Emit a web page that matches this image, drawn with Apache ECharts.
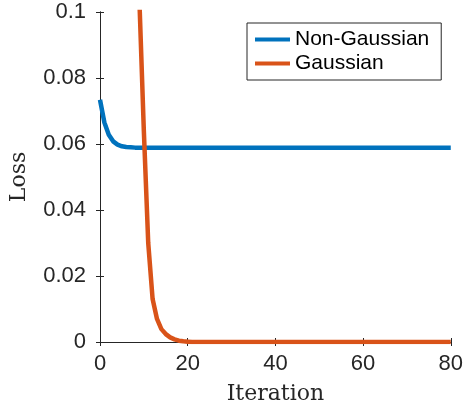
<!DOCTYPE html>
<html>
<head>
<meta charset="utf-8">
<script src="https://cdn.jsdelivr.net/npm/echarts@6/dist/echarts.min.js"></script>
<style>
  html, body { margin: 0; padding: 0; background: #fff; }
  #main { width: 466px; height: 410px; }
</style>
</head>
<body>
<div id="main"></div>
<script type="text/javascript">
// loss per iteration (iteration = array index, 0..80)
var nonGaussian = [
  0.0734, 0.0665, 0.0628, 0.0608, 0.0598, 0.0593, 0.0591, 0.0590, 0.0589, 0.0589,
  0.0589, 0.0589, 0.0589, 0.0589, 0.0589, 0.0589, 0.0589, 0.0589, 0.0589, 0.0589,
  0.0589, 0.0589, 0.0589, 0.0589, 0.0589, 0.0589, 0.0589, 0.0589, 0.0589, 0.0589,
  0.0589, 0.0589, 0.0589, 0.0589, 0.0589, 0.0589, 0.0589, 0.0589, 0.0589, 0.0589,
  0.0589, 0.0589, 0.0589, 0.0589, 0.0589, 0.0589, 0.0589, 0.0589, 0.0589, 0.0589,
  0.0589, 0.0589, 0.0589, 0.0589, 0.0589, 0.0589, 0.0589, 0.0589, 0.0589, 0.0589,
  0.0589, 0.0589, 0.0589, 0.0589, 0.0589, 0.0589, 0.0589, 0.0589, 0.0589, 0.0589,
  0.0589, 0.0589, 0.0589, 0.0589, 0.0589, 0.0589, 0.0589, 0.0589, 0.0589, 0.0589,
  0.0589
];
var gaussian = [
  0.62, 0.50, 0.40, 0.32, 0.26, 0.21, 0.17, 0.145, 0.125, 0.103,
  0.064, 0.030, 0.013, 0.007, 0.0039, 0.0024, 0.0014, 0.0008, 0.0004, 0.0002,
  0.0001, 0, 0, 0, 0, 0, 0, 0, 0, 0,
  0, 0, 0, 0, 0, 0, 0, 0, 0, 0,
  0, 0, 0, 0, 0, 0, 0, 0, 0, 0,
  0, 0, 0, 0, 0, 0, 0, 0, 0, 0,
  0, 0, 0, 0, 0, 0, 0, 0, 0, 0,
  0, 0, 0, 0, 0, 0, 0, 0, 0, 0,
  0
];
var seriesNames = ['Non-Gaussian', 'Gaussian'];
var xTicks = [0, 20, 40, 60, 80];
var yTicks = [0, 0.02, 0.04, 0.06, 0.08, 0.1];

function toPairs(arr) {
  var res = [];
  for (var i = 0; i < arr.length; i++) {
    res.push([i, arr[i]]);
  }
  return res;
}

var axisColor = '#262626';
var tickFont = { fontFamily: 'Liberation Sans', fontSize: 22, color: axisColor };

var chart = echarts.init(document.getElementById('main'));
chart.setOption({
  animation: false,
  grid: { left: 97, right: 11, top: 12, bottom: 67, containLabel: false },
  legend: {
    orient: 'vertical',
    left: 247,
    top: 23,
    padding: [6, 12, 6, 8],
    itemGap: 3,
    itemWidth: 35,
    itemHeight: 4,
    icon: 'rect',
    borderColor: axisColor,
    borderWidth: 1,
    backgroundColor: '#fff',
    textStyle: { fontFamily: 'Liberation Sans', fontSize: 21, color: '#000', lineHeight: 21 },
    data: seriesNames
  },
  xAxis: [{
    type: 'value',
    min: xTicks[0], max: xTicks[xTicks.length - 1], interval: 20,
    name: 'Iteration',
    nameLocation: 'middle',
    nameGap: 41,
    nameTextStyle: { fontFamily: 'DejaVu Serif', fontSize: 22, color: axisColor },
    axisLine: { show: true, lineStyle: { color: axisColor, width: 1 } },
    axisTick: { show: true, inside: true, length: 4, lineStyle: { color: axisColor } },
    axisLabel: Object.assign({ margin: 11 }, tickFont),
    splitLine: { show: false }
  }, {
    type: 'value', position: 'top',
    min: xTicks[0], max: xTicks[xTicks.length - 1], interval: 20,
    axisLine: { show: true, lineStyle: { color: axisColor, width: 1 } },
    axisTick: { show: true, inside: true, length: 4, lineStyle: { color: axisColor } },
    axisLabel: { show: false },
    splitLine: { show: false }
  }],
  yAxis: [{
    type: 'value',
    min: yTicks[0], max: yTicks[yTicks.length - 1], interval: 0.02,
    name: 'Loss',
    nameLocation: 'middle',
    nameGap: 70,
    nameTextStyle: { fontFamily: 'DejaVu Serif', fontSize: 22, color: axisColor },
    axisLine: { show: true, lineStyle: { color: axisColor, width: 1 } },
    axisTick: { show: true, inside: true, length: 4, lineStyle: { color: axisColor } },
    axisLabel: Object.assign({ margin: 14 }, tickFont),
    splitLine: { show: false }
  }, {
    type: 'value', position: 'right',
    min: yTicks[0], max: yTicks[yTicks.length - 1], interval: 0.02,
    axisLine: { show: true, lineStyle: { color: axisColor, width: 1 } },
    axisTick: { show: true, inside: true, length: 4, lineStyle: { color: axisColor } },
    axisLabel: { show: false },
    splitLine: { show: false }
  }],
  series: [{
    name: seriesNames[0],
    type: 'line',
    data: toPairs(nonGaussian),
    showSymbol: false,
    clip: true,
    color: '#0072BD',
    lineStyle: { width: 4.5, color: '#0072BD' }
  }, {
    name: seriesNames[1],
    type: 'line',
    data: toPairs(gaussian),
    showSymbol: false,
    clip: true,
    color: '#D95319',
    lineStyle: { width: 4.5, color: '#D95319' }
  }]
});
</script>
</body>
</html>
